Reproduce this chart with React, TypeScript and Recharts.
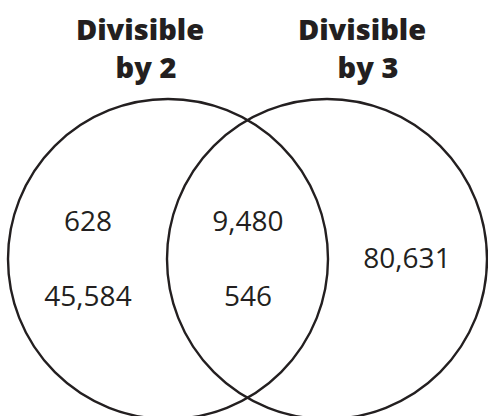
import React from 'react';
import { ScatterChart, Scatter, XAxis, YAxis } from 'recharts';

// set names (two lines each) and the counts written in each region
const setTitles = [
  ['Divisible', 'by 2'],
  ['Divisible', 'by 3'],
];
const regionValues = [628, 45584, 9480, 546, 80631];

// layout, in pixels of the 488x416 canvas
const W = 488;
const H = 416;
const R = 160;
const circlePos = [
  { x: 168, y: 259 },
  { x: 327, y: 259 },
];
const titlePos = [
  [{ x: 140, y: 40 }, { x: 146, y: 78 }],
  [{ x: 362, y: 40 }, { x: 368, y: 78 }],
];
const valuePos = [
  { x: 88, y: 231 },
  { x: 88, y: 306 },
  { x: 248, y: 231 },
  { x: 248, y: 306 },
  { x: 407, y: 268 },
];

const INK = '#231f20';

const circleData = circlePos.map((p, i) => ({ ...p, name: setTitles[i].join(' ') }));
const titleData = setTitles.flatMap((lines, i) =>
  lines.map((text, j) => ({ ...titlePos[i][j], text }))
);
const valueData = regionValues.map((v, i) => ({
  ...valuePos[i],
  text: v.toLocaleString('en-US'),
}));

const CircleShape = (props: any) => (
  <circle cx={props.cx} cy={props.cy} r={R} fill="none" stroke={INK} strokeWidth={2.4} />
);

const TitleShape = (props: any) => (
  <text
    x={props.cx}
    y={props.cy}
    textAnchor="middle"
    fill={INK}
    fontFamily="'Open Sans', sans-serif"
    fontWeight={800}
    fontSize={29}
  >
    {props.payload.text}
  </text>
);

const ValueShape = (props: any) => (
  <text
    x={props.cx}
    y={props.cy}
    textAnchor="middle"
    fill={INK}
    fontFamily="'Open Sans', sans-serif"
    fontSize={28}
  >
    {props.payload.text}
  </text>
);

export default function App() {
  return (
    <div style={{ position: 'fixed', left: 0, top: 0, width: W, height: H, background: '#fff' }}>
      <ScatterChart width={W} height={H} margin={{ top: 0, right: 0, bottom: 0, left: 0 }}>
        <XAxis type="number" dataKey="x" domain={[0, W]} hide />
        <YAxis type="number" dataKey="y" domain={[0, H]} reversed hide />
        <Scatter data={circleData} shape={CircleShape} isAnimationActive={false} />
        <Scatter data={titleData} shape={TitleShape} isAnimationActive={false} />
        <Scatter data={valueData} shape={ValueShape} isAnimationActive={false} />
      </ScatterChart>
    </div>
  );
}
